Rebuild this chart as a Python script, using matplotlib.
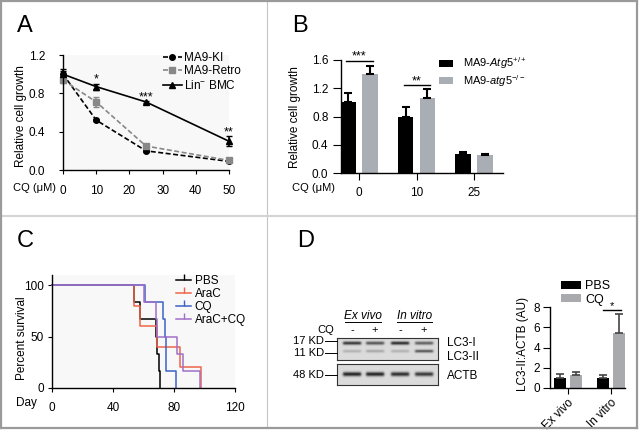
import numpy as np
import matplotlib
matplotlib.use("Agg")
import matplotlib.pyplot as plt
from matplotlib.lines import Line2D

plt.rcParams['font.family'] = ['Liberation Sans', 'DejaVu Sans']
plt.rcParams['mathtext.fontset'] = 'custom'
plt.rcParams['mathtext.rm'] = 'Liberation Sans'
plt.rcParams['mathtext.it'] = 'Liberation Sans:italic'
plt.rcParams['font.size'] = 8.5

# ---- data ----
# A: growth vs CQ dose
cq_dose = [0, 10, 25, 50]
ki = [1.00, 0.52, 0.20, 0.09]
ki_err = [0.03, 0.01, 0.01, 0.01]
retro = [0.94, 0.71, 0.25, 0.10]
retro_err = [0.03, 0.05, 0.02, 0.01]
lin = [1.00, 0.87, 0.71, 0.30]
lin_err = [0.05, 0.03, 0.01, 0.05]
a_stars = {10: '*', 25: '***', 50: '**'}

# B: Atg5 bars
b_cats = ['0', '10', '25']
atg5_wt = [1.00, 0.79, 0.27]
atg5_wt_err = [0.13, 0.15, 0.03]
atg5_ko = [1.40, 1.06, 0.25]
atg5_ko_err = [0.11, 0.13, 0.02]

# C: survival curves (day, percent)
pbs_t = [0, 54, 58, 68, 69, 70, 71]
pbs_s = [100, 83.3, 66.7, 50, 33.3, 16.7, 0]
arac_t = [0, 54, 58, 69, 84, 98]
arac_s = [100, 80, 60, 40, 20, 0]
cq_t = [0, 61, 73, 74, 75, 81]
cq_s = [100, 83.3, 66.7, 50, 16.7, 0]
combo_t = [0, 60, 68, 69, 82, 86, 97]
combo_s = [100, 83.3, 66.7, 50, 33.3, 16.7, 0]

# D: blot band strengths per lane and quantification
lanes = ['-', '+', '-', '+']
lc3i_band = [0.80, 0.65, 0.85, 0.60]
lc3ii_band = [0.20, 0.25, 0.20, 0.65]
actb_band = [0.90, 0.90, 0.85, 0.80]
d_cats = ['Ex vivo', 'In vitro']
d_pbs = [0.95, 0.95]
d_pbs_err = [0.45, 0.30]
d_cq = [1.25, 5.40]
d_cq_err = [0.30, 1.90]

W, H = 639, 432
fig = plt.figure(figsize=(W / 100, H / 100), dpi=100)


def add_ax(l, t, r, b):
    return fig.add_axes([l / W, 1 - b / H, (r - l) / W, (b - t) / H])


def fx(x):
    return x / W


def fy(y):
    return 1 - y / H


def style(ax):
    for s in ['top', 'right']:
        ax.spines[s].set_visible(False)
    for s in ['left', 'bottom']:
        ax.spines[s].set_linewidth(1.0)


# frame and dividers
fig.add_artist(Line2D([fx(267), fx(267)], [fy(1), fy(428)], color='#c4c4c4', lw=0.8))
fig.add_artist(Line2D([fx(1), fx(637)], [fy(216), fy(216)], color='#d4d4d4', lw=1.5))
for xs, ys in [([1, 637], [1, 1]), ([1, 637], [428, 428]), ([1, 1], [1, 428]), ([637, 637], [1, 428])]:
    fig.add_artist(Line2D([fx(v) for v in xs], [fy(v) for v in ys], color='#9a9a9a', lw=1.6))

for letter, x, y in [('A', 17, 32), ('B', 292, 32), ('C', 17, 247), ('D', 297, 247)]:
    fig.text(fx(x), fy(y), letter, fontsize=17, va='baseline')

# ---- A ----
axA = add_ax(63, 55, 229, 170)
style(axA)
axA.set_facecolor('#f8f8f8')
a_series = [(ki, ki_err, 'black', (0, (3, 1.5)), 'o', 4, 'MA9-KI'),
            (retro, retro_err, '#888888', (0, (3, 1.5)), 's', 4.5, 'MA9-Retro'),
            (lin, lin_err, 'black', '-', '^', 4.5, 'Lin$^{-}$ BMC')]
a_handles = []
for vals, err, c, ls, m, ms, lab in a_series:
    axA.errorbar(cq_dose, vals, yerr=err, color=c, ls=ls, marker=m, ms=ms, lw=1.2,
                 capsize=2, clip_on=False)
    a_handles.append(Line2D([0], [0], color=c, ls=ls, marker=m, ms=ms, lw=1.2, label=lab))
for xv, st in a_stars.items():
    i = cq_dose.index(xv)
    axA.text(xv, lin[i] + lin_err[i] + 0.01, st, ha='center', va='baseline', fontsize=9)
axA.set_xlim(0, 50)
axA.set_ylim(0, 1.2)
axA.set_xticks([0, 10, 20, 30, 40, 50])
axA.set_yticks([0, 0.4, 0.8, 1.2])
axA.set_yticklabels(['0.0', '0.4', '0.8', '1.2'])
axA.tick_params(axis='y', length=3, pad=10)
axA.tick_params(axis='x', length=3, pad=8)
axA.legend(handles=a_handles, loc='upper left', bbox_to_anchor=(fx(157), fy(46)),
           bbox_transform=fig.transFigure, frameon=False, handlelength=1.6, handletextpad=0.2,
           labelspacing=0.12, borderpad=0)
fig.text(fx(13), fy(188), 'CQ (μM)', va='center', fontsize=8)
fig.text(fx(21), fy(116), 'Relative cell growth', rotation=90, ha='center', va='center')

# ---- B ----
axB = add_ax(341, 60, 503, 173)
style(axB)
xb = np.arange(len(b_cats))
bw = 0.27
axB.bar(xb - 0.19, atg5_wt, bw, color='black', label='MA9-$\\it{Atg5}^{+/+}$')
axB.bar(xb + 0.19, atg5_ko, bw, color='#a9adb4', label='MA9-$\\it{atg5}^{-/-}$')
axB.errorbar(xb - 0.19, atg5_wt, yerr=[np.zeros(3), atg5_wt_err], fmt='none', ecolor='black',
             elinewidth=1.5, capsize=3, capthick=1.5)
axB.errorbar(xb + 0.19, atg5_ko, yerr=[np.zeros(3), atg5_ko_err], fmt='none', ecolor='black',
             elinewidth=1.5, capsize=3, capthick=1.5)
for i, st, yv in [(0, '***', 1.59), (1, '**', 1.24)]:
    axB.plot([i - 0.22, i + 0.24], [yv, yv], color='black', lw=1, clip_on=False)
    axB.text(i + 0.01, yv + 0.02, st, ha='center', va='baseline', fontsize=9)
axB.set_xlim(-0.31, 2.5)
axB.set_ylim(0, 1.6)
axB.set_xticks(xb)
axB.set_xticklabels(b_cats)
axB.set_yticks([0, 0.4, 0.8, 1.2, 1.6])
axB.set_yticklabels(['0.0', '0.4', '0.8', '1.2', '1.6'])
axB.tick_params(axis='y', length=6, pad=3)
axB.tick_params(axis='x', length=5, pad=5)
axB.legend(loc='upper left', bbox_to_anchor=(fx(433), fy(50)), bbox_transform=fig.transFigure,
           frameon=False, handlelength=1.3, handleheight=0.6, handletextpad=0.9,
           labelspacing=0.15, borderpad=0, fontsize=8)
fig.text(fx(292), fy(188), 'CQ (μM)', va='center', fontsize=8)
fig.text(fx(295), fy(117), 'Relative cell growth', rotation=90, ha='center', va='center')

# ---- C ----
axC = add_ax(52, 275, 235, 388)
style(axC)
axC.set_facecolor('#f8f8f8')
curves = [(pbs_t, pbs_s, 'black', 'PBS'), (arac_t, arac_s, '#ef6449', 'AraC'),
          (cq_t, cq_s, '#3b62c6', 'CQ'), (combo_t, combo_s, '#a06fc6', 'AraC+CQ')]
handles = []
for t, s, c, lab in curves:
    axC.step(t, s, where='post', color=c, lw=1.1, clip_on=False)
    handles.append(Line2D([0], [0], color=c, lw=1.1, marker=2, ms=4, label=lab))
axC.set_xlim(0, 120)
axC.set_ylim(0, 110)
axC.set_xticks([0, 40, 80, 120])
axC.set_yticks([0, 50, 100])
axC.tick_params(axis='y', length=3, pad=3)
axC.tick_params(axis='x', length=3, pad=7)
axC.legend(handles=handles, loc='upper left', bbox_to_anchor=(fx(170), fy(269)),
           bbox_transform=fig.transFigure, frameon=False, handlelength=1.3, handletextpad=0.3,
           labelspacing=0.1, borderpad=0)
fig.text(fx(16), fy(403), 'Day', va='center')
fig.text(fx(22), fy(338), 'Percent survival', rotation=90, ha='center', va='center')

# ---- D blot ----
lane_x = np.array([15, 38, 63, 87])  # lane centres inside the box (px)


def blot(ax, rows, w=101, h=22):
    yy, xx = np.mgrid[0:h * 4, 0:w * 4] / 4.0
    img = np.full(yy.shape, 0.86)
    for yc, amps, thick in rows:
        for cx, a in zip(lane_x, amps):
            lane = 0.5 * (np.tanh((xx - (cx - 9)) / 1.2) - np.tanh((xx - (cx + 9)) / 1.2))
            img -= a * 0.8 * lane * np.exp(-((yy - yc) / thick) ** 2)
    img = np.clip(img, 0, 1)
    ax.imshow(img, cmap='gray', vmin=0, vmax=1, aspect='auto', extent=(0, w, h, 0))
    ax.set_xticks([])
    ax.set_yticks([])
    for s in ax.spines.values():
        s.set_linewidth(0.8)
        s.set_color('#333333')


ax_b1 = add_ax(337, 338, 438, 360)
blot(ax_b1, [(5, lc3i_band, 1.7), (13, lc3ii_band, 1.5)])
ax_b2 = add_ax(337, 364, 438, 385)
blot(ax_b2, [(10, actb_band, 2.1)], h=21)

for i, sgn in enumerate(lanes):
    fig.text(fx(337 + lane_x[i]), fy(330), sgn, ha='center', va='center', fontsize=8)
fig.text(fx(334), fy(330), 'CQ', ha='right', va='center', fontsize=8)
for lab, x0, x1 in [('Ex vivo', 345, 381), ('In vitro', 397, 432)]:
    fig.text(fx((x0 + x1) / 2), fy(319), lab, ha='center', va='baseline', fontsize=8.5, style='italic')
    fig.add_artist(Line2D([fx(x0), fx(x1)], [fy(322), fy(322)], color='black', lw=0.7))
for lab, y in [('17 KD', 341), ('11 KD', 353), ('48 KD', 375)]:
    fig.text(fx(324), fy(y), lab, ha='right', va='center', fontsize=8)
    fig.add_artist(Line2D([fx(325), fx(337)], [fy(y), fy(y)], color='black', lw=0.7))
for lab, y in [('LC3-I', 343), ('LC3-II', 357), ('ACTB', 376)]:
    fig.text(fx(447), fy(y), lab, va='center')

# ---- D bars ----
axD = add_ax(550, 307, 625, 388)
style(axD)
xd = np.arange(len(d_cats))
axD.bar(xd - 0.19, d_pbs, 0.27, color='black', label='PBS')
axD.bar(xd + 0.19, d_cq, 0.27, color='#a8aaad', label='CQ')
axD.errorbar(xd - 0.19, d_pbs, yerr=[np.zeros(2), d_pbs_err], fmt='none', ecolor='#444444',
             elinewidth=1.2, capsize=3, capthick=1.2)
axD.errorbar(xd + 0.19, d_cq, yerr=[np.zeros(2), d_cq_err], fmt='none', ecolor='#444444',
             elinewidth=1.2, capsize=3, capthick=1.2)
axD.plot([0.81, 1.23], [7.7, 7.7], color='black', lw=1, clip_on=False)
axD.text(1.02, 7.75, '*', ha='center', va='baseline', fontsize=8)
axD.set_xlim(-0.42, 1.33)
axD.set_ylim(0, 8)
axD.set_yticks([0, 2, 4, 6, 8])
axD.set_xticks(xd)
axD.set_xticklabels(d_cats, rotation=45, ha='right', rotation_mode='anchor')
axD.tick_params(axis='y', length=5, pad=2)
axD.tick_params(axis='x', length=4, pad=2)
axD.legend(loc='upper left', bbox_to_anchor=(fx(555), fy(274)), bbox_transform=fig.transFigure,
           frameon=False, handlelength=1.6, handleheight=0.6, handletextpad=0.3,
           labelspacing=0.1, borderpad=0, fontsize=9)
fig.text(fx(523), fy(344), 'LC3-II:ACTB (AU)', rotation=90, ha='center', va='center')

fig.savefig('out.png', dpi=100)
